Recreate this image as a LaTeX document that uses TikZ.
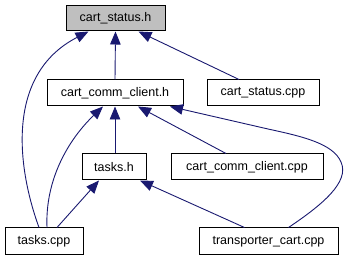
\documentclass[tikz,border=0pt]{standalone}
\usepackage{fontspec}
\setmainfont{Liberation Sans}
\usetikzlibrary{arrows.meta}
\definecolor{edgeblue}{HTML}{191970}
\definecolor{focusgray}{HTML}{BFBFBF}
\tikzset{
  filebox/.style={draw=black, line width=1pt, fill=white, inner sep=0pt,
    minimum height=26pt, font=\fontsize{12.5pt}{14pt}\selectfont},
  focusbox/.style={filebox, fill=focusgray},
  dep/.style={draw=edgeblue, line width=0.9pt,
    -{Triangle[length=13pt,width=10.5pt]}},
}
\begin{document}
\begin{tikzpicture}[x=1pt,y=-1pt]
  \useasboundingbox (0,0) rectangle (346,261);
  % file nodes
  \node[focusbox, minimum width=99pt, minimum height=25pt] (csh) at (115.5,18.5) {cart\_status.h};
  \node[filebox, minimum width=136pt] (ccch) at (115,93) {cart\_comm\_client.h};
  \node[filebox, minimum width=112pt] (cscpp) at (263,93) {cart\_status.cpp};
  \node[filebox, minimum width=64pt] (tasksh) at (114,167) {tasks.h};
  \node[filebox, minimum width=152pt] (ccccpp) at (247,167) {cart\_comm\_client.cpp};
  \node[filebox, minimum width=78pt, minimum height=27pt] (taskscpp) at (44,241.5) {tasks.cpp};
  \node[filebox, minimum width=139pt, minimum height=27pt] (tccpp) at (268.5,241.5) {transporter\_cart.cpp};
  % include dependencies (arrow points at the included header)
  \draw[dep] (ccch.north) -- (csh.south);
  \draw[dep] ([xshift=-24pt]cscpp.north) -- ([xshift=23pt]csh.south);
  \draw[dep] ([xshift=-5pt]taskscpp.north) .. controls (18,170) and (4,75) .. ([xshift=-27pt]csh.south);
  \draw[dep] ([xshift=3pt]taskscpp.north) .. controls (45,180) and (68,140) .. ([xshift=-12pt]ccch.south);
  \draw[dep] ([xshift=13pt]taskscpp.north) -- ([xshift=-15pt]tasksh.south);
  \draw[dep] ([xshift=1pt]tasksh.north) -- (ccch.south);
  \draw[dep] ([xshift=-21pt]ccccpp.north) -- ([xshift=23pt]ccch.south);
  \draw[dep] ([xshift=20pt]tccpp.north) .. controls (322,205) and (350,182) .. (341,162)
    .. controls (333,143) and (300,136) .. (268,129) -- ([xshift=55pt]ccch.south);
  \draw[dep] ([xshift=-24pt]tccpp.north) -- ([xshift=26pt]tasksh.south);
\end{tikzpicture}
\end{document}
